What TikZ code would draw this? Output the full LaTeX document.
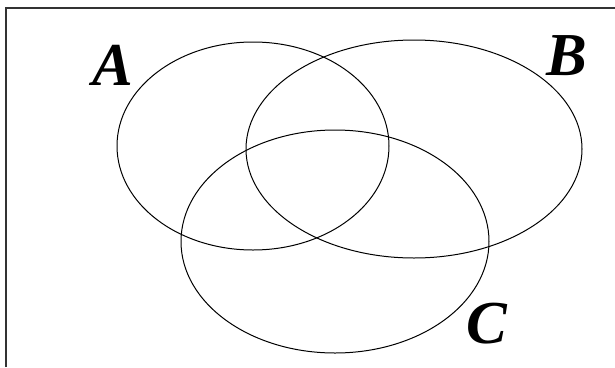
\documentclass[tikz,border=0pt]{standalone}
\usepackage{fontspec}
\setmainfont{Liberation Serif}
\begin{document}
\begin{tikzpicture}[x=1pt,y=-1pt,
  setline/.style={line width=1pt,black},
  lbl/.style={font=\fontsize{61}{61}\selectfont\bfseries\itshape,inner sep=0pt,anchor=base}]
\useasboundingbox (0,0) rectangle (615,367);
\draw[line width=1.6pt,black!80] (6,367) -- (6,8) -- (615,8);
\draw[setline] (253,146) ellipse [x radius=136, y radius=104];
\draw[setline] (414,149) ellipse [x radius=168, y radius=109];
\draw[setline] (335,241.5) ellipse [x radius=154, y radius=111.5];
\node[lbl] (A) at (113,85) {A};
\node[lbl] (B) at (567,75) {B};
\node[lbl] (C) at (487,343) {C};
\end{tikzpicture}
\end{document}
